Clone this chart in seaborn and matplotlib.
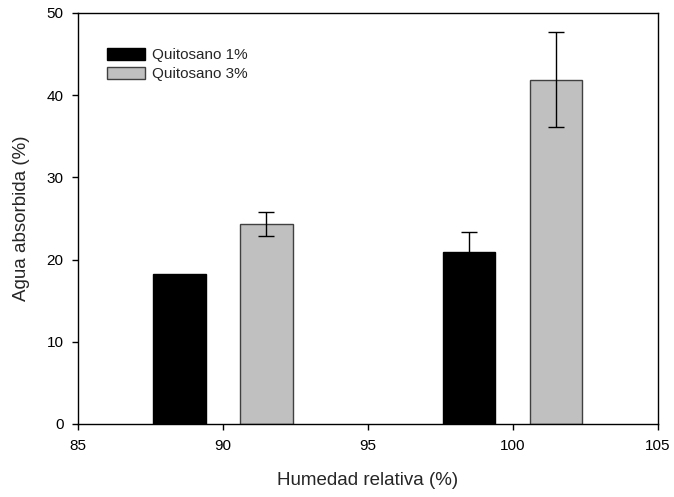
import matplotlib
matplotlib.use("Agg")
import matplotlib.pyplot as plt
import seaborn as sns
import pandas as pd
import numpy as np
from matplotlib.patches import Patch

humidity = [90, 90, 100, 100]
series = ["Quitosano 1%", "Quitosano 3%", "Quitosano 1%", "Quitosano 3%"]
water = [18.2, 24.3, 20.9, 41.9]
err = [0.0, 1.45, 2.4, 5.8]

colors = {"Quitosano 1%": "#000000", "Quitosano 3%": "#c0c0c0"}
edges = {"Quitosano 1%": "#000000", "Quitosano 3%": "#404040"}

sns.set_style("ticks")
plt.rcParams["font.family"] = ["Liberation Sans", "DejaVu Sans"]

df = pd.DataFrame({"hr": humidity, "serie": series, "agua": water, "err": err})

fig = plt.figure(figsize=(6.74, 4.97), dpi=100)
ax = fig.add_axes([0.1157, 0.147, 0.8603, 0.827])

sns.barplot(data=df, x="hr", y="agua", hue="serie", native_scale=True,
            palette=colors, width=0.6, gap=0.4, dodge=True, errorbar=None,
            linewidth=1, ax=ax, legend=False, saturation=1)

for cont, name in zip(ax.containers, ["Quitosano 1%", "Quitosano 3%"]):
    sub = df[df["serie"] == name].sort_values("hr")
    for patch, e in zip(cont.patches, sub["err"].values):
        patch.set_edgecolor(edges[name])
        xc = patch.get_x() + patch.get_width() / 2
        h = patch.get_height()
        if e > 0:
            ax.errorbar(xc, h, yerr=e, fmt="none", ecolor="black",
                        elinewidth=1, capsize=6, capthick=1, zorder=5)

ax.set_xlim(85, 105)
ax.set_ylim(0, 50)
ax.set_xticks([85, 90, 95, 100, 105])
ax.set_yticks([0, 10, 20, 30, 40, 50])
ax.set_xticklabels(["85", "90", "95", "100", "105"])
ax.set_yticklabels(["0", "10", "20", "30", "40", "50"])
ax.tick_params(direction="out", length=4.5, width=1, labelsize=11, colors="black", pad=6)
for s in ax.spines.values():
    s.set_visible(True)
    s.set_linewidth(1)
    s.set_color("black")

ax.set_xlabel("Humedad relativa (%)", fontsize=13.5, labelpad=14)
ax.set_ylabel("Agua absorbida (%)", fontsize=13.5, labelpad=12)

handles = [Patch(facecolor=colors[k], edgecolor=edges[k], linewidth=1, label=k)
           for k in ["Quitosano 1%", "Quitosano 3%"]]
ax.legend(handles=handles, loc="upper left", bbox_to_anchor=(0.05, 0.914),
          frameon=False, fontsize=11, handlelength=2.5, handleheight=0.8,
          handletextpad=0.45, labelspacing=0.3, borderaxespad=0, borderpad=0)

fig.savefig("out.png", dpi=100)
